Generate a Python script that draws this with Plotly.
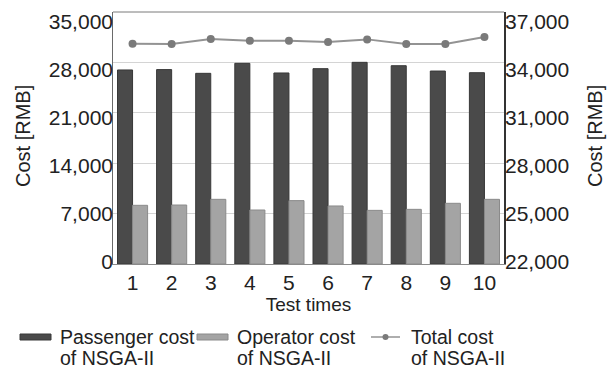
import plotly.graph_objects as go

# Ten NSGA-II test runs: passenger / operator cost (left axis) and total cost (right axis)
test_times = [1, 2, 3, 4, 5, 6, 7, 8, 9, 10]
passenger_cost = [26950, 27000, 26480, 27870, 26530, 27130, 28010, 27540, 26800, 26570]
operator_cost = [8150, 8190, 8980, 7500, 8800, 8060, 7450, 7590, 8430, 8980]
total_cost = [35110, 35100, 35390, 35290, 35290, 35210, 35370, 35100, 35100, 35510]

left_ticks = [0, 7000, 14000, 21000, 28000, 35000]
right_ticks = [22000, 25000, 28000, 31000, 34000, 37000]

FONT = "Liberation Sans, Arial, sans-serif"
TEXT = "#222222"
DARK = "#4a4a4a"
LIGHT = "#a4a4a4"
LINE = "#939393"
MARK = "#7a7a7a"

W, H = 609, 372
ML, MR, MT, MB = 113, 105, 12, 108
px_w = W - ML - MR
px_h = H - MT - MB


def px_x(p):
    return (p - ML) / px_w


def px_y(p):
    return (H - MB - p) / px_h


fig = go.Figure()
fig.add_trace(go.Bar(
    x=test_times, y=passenger_cost, name="Passenger cost of NSGA-II",
    marker=dict(color=DARK, line=dict(color="#383838", width=1)),
    showlegend=False,
))
fig.add_trace(go.Bar(
    x=test_times, y=operator_cost, name="Operator cost of NSGA-II",
    marker=dict(color=LIGHT, line=dict(color="#8a8a8a", width=1)),
    showlegend=False,
))
fig.add_trace(go.Scatter(
    x=test_times, y=total_cost, name="Total cost of NSGA-II", yaxis="y2",
    mode="lines+markers",
    line=dict(color=LINE, width=2),
    marker=dict(color=MARK, size=8),
    showlegend=False,
))
# empty carriers so the two tick-label scales get drawn
for ax, ticks in (("y3", left_ticks), ("y4", right_ticks)):
    fig.add_trace(go.Scatter(
        x=[test_times[0]], y=[ticks[0]], yaxis=ax, mode="markers",
        marker=dict(opacity=0), hoverinfo="skip", showlegend=False,
    ))

# tick-label scales sit on a slightly tighter span than the gridlines
label_domain = [px_y(262), px_y(22)]

fig.update_layout(
    width=W, height=H,
    margin=dict(l=ML, r=MR, t=MT, b=MB),
    paper_bgcolor="white", plot_bgcolor="rgba(0,0,0,0)",
    font=dict(family=FONT, size=21, color=TEXT),
    barmode="group", bargap=0.23, bargroupgap=0,
    xaxis=dict(
        range=[0.5, 10.5], tickmode="array", tickvals=test_times,
        ticktext=[str(t) for t in test_times],
        showgrid=False, showline=True, linecolor="#8a8a8a", linewidth=1,
        ticks="", tickfont=dict(size=21), automargin=False,
        title=dict(text="Test times", font=dict(size=19), standoff=3),
    ),
    yaxis=dict(
        range=[0, 35000], tickmode="array", tickvals=left_ticks,
        showgrid=True, gridcolor="#d4d4d4", gridwidth=1,
        showline=True, linecolor="#6a6a6a", linewidth=1,
        ticks="", zeroline=False, showticklabels=False, automargin=False,
    ),
    yaxis2=dict(
        range=[22000, 37000], tickmode="array", tickvals=right_ticks,
        overlaying="y", side="right", showgrid=False,
        showline=True, linecolor="#333333", linewidth=2,
        ticks="", zeroline=False, showticklabels=False, automargin=False,
    ),
    yaxis3=dict(
        range=[0, 35000], domain=label_domain, anchor="free", position=0, side="left",
        tickmode="array", tickvals=left_ticks,
        ticktext=[f"{v:,}" for v in left_ticks],
        showgrid=False, showline=False, zeroline=False, ticks="",
        tickfont=dict(size=21), automargin=False, fixedrange=True,
    ),
    yaxis4=dict(
        range=[22000, 37000], domain=label_domain, anchor="free", position=1, side="right",
        tickmode="array", tickvals=right_ticks,
        ticktext=[f"{v:,}" for v in right_ticks],
        showgrid=False, showline=False, zeroline=False, ticks="",
        tickfont=dict(size=21), automargin=False, fixedrange=True,
    ),
)

# top border of the plotting frame
fig.add_shape(type="line", xref="paper", yref="paper", x0=0, x1=1, y0=1, y1=1,
              line=dict(color="#7a7a7a", width=1))

# vertical axis titles
for xc in (23, 595):
    fig.add_annotation(
        xref="paper", yref="paper", x=px_x(xc), y=px_y(136),
        xanchor="center", yanchor="middle", textangle=-90, showarrow=False,
        text="Cost [RMB]", font=dict(size=20, color=TEXT),
    )

# hand-built legend below the axis title
legend_items = [
    ("bar", DARK, "#383838", 20, ["Passenger cost", "of NSGA-II"]),
    ("bar", LIGHT, "#8a8a8a", 197, ["Operator cost", "of NSGA-II"]),
    ("line", LINE, MARK, 371, ["Total cost", "of NSGA-II"]),
]
sym_y = 337
row_y = [337, 358]
for kind, fill, edge, x0, lines in legend_items:
    if kind == "bar":
        fig.add_shape(type="rect", xref="paper", yref="paper",
                      x0=px_x(x0), x1=px_x(x0 + 31), y0=px_y(sym_y + 3), y1=px_y(sym_y - 3),
                      fillcolor=fill, line=dict(color=edge, width=1))
    else:
        fig.add_shape(type="line", xref="paper", yref="paper",
                      x0=px_x(x0), x1=px_x(x0 + 29), y0=px_y(sym_y), y1=px_y(sym_y),
                      line=dict(color=fill, width=1.5))
        fig.add_shape(type="circle", xref="paper", yref="paper",
                      x0=px_x(x0 + 11.5), x1=px_x(x0 + 17.5),
                      y0=px_y(sym_y + 3), y1=px_y(sym_y - 3),
                      fillcolor=edge, line=dict(color=edge, width=0))
    for text, yc in zip(lines, row_y):
        fig.add_annotation(
            xref="paper", yref="paper", x=px_x(x0 + 38), y=px_y(yc),
            xanchor="left", yanchor="middle", align="left", showarrow=False,
            text=text, font=dict(size=19.5, color=TEXT),
        )

fig.write_html("out.html")
